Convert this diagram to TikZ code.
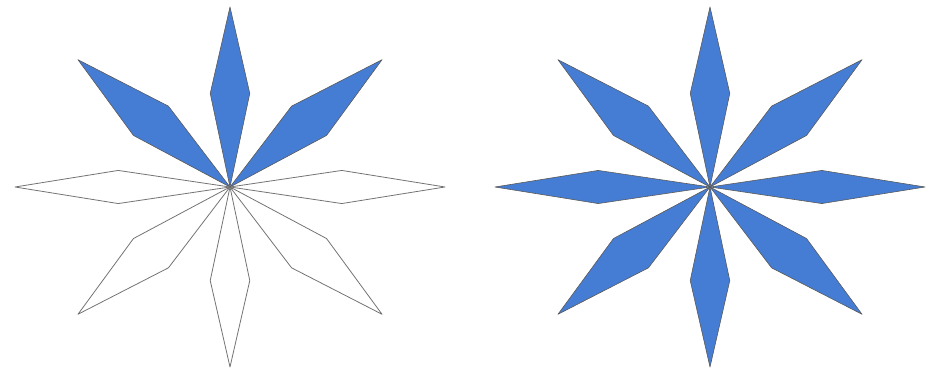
\documentclass[tikz,border=0pt]{standalone}
\usepackage{tikz}
\definecolor{petalblue}{RGB}{70,125,212}

\begin{document}
\begin{tikzpicture}[x=1pt,y=1pt,
    petalfill/.style={fill=petalblue,draw=black!65,line width=0.6pt,line join=round},
    petalline/.style={draw=black!55,line width=0.8pt,line join=round}]
  \useasboundingbox (0,0) rectangle (933,369);
  % left star: upper three filled, the rest outlined
  \foreach \ang/\w in {45/0.115,90/0.092,135/0.115} {
    \begin{scope}[shift={(230,182)},xscale=215,yscale=180,rotate=\ang]
      \draw[petalfill] (0,0) -- (0.52,\w) -- (1,0) -- (0.52,-\w) -- cycle;
    \end{scope}
  }
  \foreach \ang/\w in {0/0.092,180/0.092,225/0.115,270/0.092,315/0.115} {
    \begin{scope}[shift={(230,182)},xscale=215,yscale=180,rotate=\ang]
      \draw[petalline] (0,0) -- (0.52,\w) -- (1,0) -- (0.52,-\w) -- cycle;
    \end{scope}
  }
  % right star: all eight filled
  \foreach \ang/\w in {0/0.092,45/0.115,90/0.092,135/0.115,180/0.092,225/0.115,270/0.092,315/0.115} {
    \begin{scope}[shift={(710,182)},xscale=215,yscale=180,rotate=\ang]
      \draw[petalfill] (0,0) -- (0.52,\w) -- (1,0) -- (0.52,-\w) -- cycle;
    \end{scope}
  }
\end{tikzpicture}
\end{document}
